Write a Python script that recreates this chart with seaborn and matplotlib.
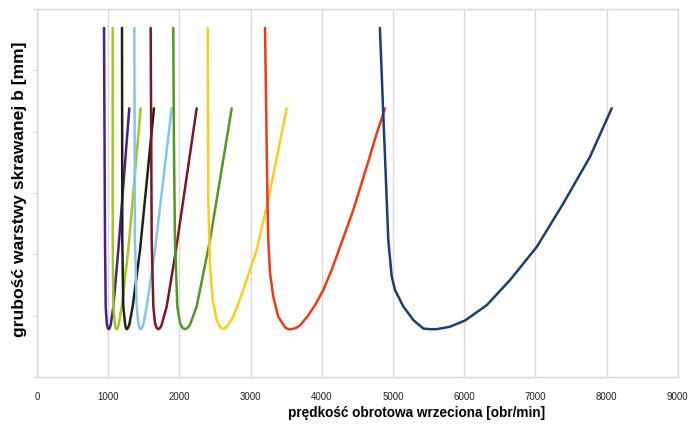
import pandas as pd
import matplotlib
matplotlib.use("Agg")
import matplotlib.pyplot as plt
import seaborn as sns

# lobes of the stability chart (x = rpm, y = b)
lobe1_x = [940, 954, 964, 978, 992, 1006, 1020, 1034, 1071, 1141, 1295]
lobe1_y = [5.69, 2.23, 1.15, 0.88, 0.80, 0.78, 0.80, 0.85, 1.15, 2.07, 4.38]
lobe2_x = [1062, 1062, 1071, 1090, 1104, 1118, 1132, 1146, 1189, 1281, 1455]
lobe2_y = [5.69, 2.23, 1.15, 0.88, 0.80, 0.78, 0.80, 0.85, 1.15, 2.07, 4.38]
lobe3_x = [1193, 1197, 1211, 1235, 1247, 1259, 1277, 1295, 1343, 1446, 1642]
lobe3_y = [5.69, 2.23, 1.15, 0.88, 0.80, 0.78, 0.80, 0.85, 1.15, 2.07, 4.38]
lobe4_x = [1366, 1375, 1399, 1422, 1438, 1455, 1473, 1492, 1540, 1656, 1891]
lobe4_y = [5.69, 2.23, 1.15, 0.88, 0.80, 0.78, 0.80, 0.85, 1.15, 2.07, 4.38]
lobe5_x = [1596, 1610, 1633, 1656, 1680, 1703, 1727, 1750, 1821, 1951, 2242]
lobe5_y = [5.69, 2.23, 1.15, 0.88, 0.80, 0.78, 0.80, 0.85, 1.15, 2.07, 4.38]
lobe6_x = [1913, 1923, 1937, 1970, 2007, 2042, 2078, 2113, 2148, 2242, 2429,
           2523, 2734]
lobe6_y = [5.69, 3.70, 2.23, 1.15, 0.88, 0.80, 0.78, 0.80, 0.85, 1.15, 2.23,
           2.89, 4.38]
lobe7_x = [2397, 2405, 2429, 2467, 2523, 2558, 2593, 2628, 2664, 2756, 2897,
           3085, 3248, 3507]
lobe7_y = [5.69, 2.89, 1.80, 1.26, 0.93, 0.84, 0.79, 0.79, 0.82, 0.98, 1.42,
           2.07, 2.89, 4.38]
lobe8_x = [3202, 3218, 3234, 3248, 3272, 3318, 3389, 3483, 3530, 3577, 3635,
           3693, 3800, 3910, 4021, 4140, 4255, 4442, 4631, 4771, 4888]
lobe8_y = [5.69, 4.40, 3.05, 2.23, 1.70, 1.31, 0.98, 0.81, 0.78, 0.78, 0.80,
           0.84, 0.99, 1.18, 1.42, 1.75, 2.12, 2.72, 3.43, 3.97, 4.38]
lobe9_x = [4816, 4838, 4862, 4888, 4934, 4982, 5028, 5145, 5285, 5426, 5520,
           5614, 5801, 6011, 6316, 6644, 7019, 7393, 7768, 8073]
lobe9_y = [5.69, 5.05, 4.32, 3.59, 2.23, 1.64, 1.42, 1.15, 0.93, 0.79, 0.78,
           0.78, 0.82, 0.92, 1.17, 1.58, 2.12, 2.83, 3.59, 4.38]

lobe_colors = ["#4b1f86", "#a2c81e", "#1c2412", "#80c6f0", "#7a1626",
               "#4f9a1f", "#ffcc1c", "#ee3a16", "#1b3d78"]
x_ticks = [0, 1000, 2000, 3000, 4000, 5000, 6000, 7000, 8000, 9000]

lobes = [(lobe1_x, lobe1_y), (lobe2_x, lobe2_y), (lobe3_x, lobe3_y),
         (lobe4_x, lobe4_y), (lobe5_x, lobe5_y), (lobe6_x, lobe6_y),
         (lobe7_x, lobe7_y), (lobe8_x, lobe8_y), (lobe9_x, lobe9_y)]

rows = []
for i, (xs, ys) in enumerate(lobes):
    for j, (x, y) in enumerate(zip(xs, ys)):
        rows.append({"lobe": f"L{i + 1}", "n": j, "rpm": x, "b": y})
df = pd.DataFrame(rows)

font = ["Liberation Sans", "DejaVu Sans"]

sns.set_style("white")
fig = plt.figure(figsize=(6.96, 4.26), dpi=100)
ax = fig.add_axes([0.0533, 0.115, 0.9204, 0.864])

sns.lineplot(data=df, x="rpm", y="b", hue="lobe", units="lobe",
             palette=lobe_colors, sort=False, estimator=None,
             linewidth=1.8, legend=False, ax=ax)

ax.set_xlim(0, 9000)
ax.set_ylim(0, 6)
ax.set_xticks(x_ticks)
ax.set_xticklabels([str(t) for t in x_ticks], fontsize=7, family=font,
                   color="#222222")
ax.set_yticks(range(0, 7))
ax.set_yticklabels([])
ax.grid(axis="x", color="#d9d9d9", linewidth=1.0)
ax.grid(axis="y", visible=False)
ax.set_axisbelow(True)
for s in ax.spines.values():
    s.set_color("#d9d9d9")
    s.set_linewidth(1.0)
ax.tick_params(axis="y", left=True, length=3, color="#d9d9d9", width=1.0)
ax.tick_params(axis="x", bottom=False, pad=7)

ax.set_xlabel("prędkość obrotowa wrzeciona [obr/min]", fontsize=9.8,
              fontweight="bold", family=font, color="black")
ax.xaxis.set_label_coords(0.593, -0.08)
ax.set_ylabel("grubość warstwy skrawanej b [mm]", fontsize=12.6,
              fontweight="bold", family=font, color="black")
ax.yaxis.set_label_coords(-0.015, 0.51)

fig.savefig("out.png", dpi=100)
plt.close(fig)
